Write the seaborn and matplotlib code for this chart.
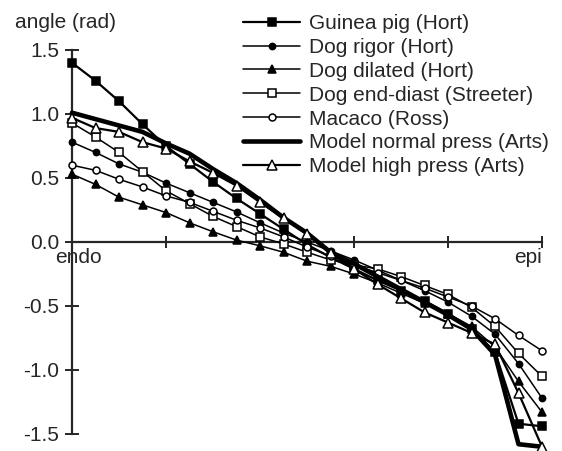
import pandas as pd
import seaborn as sns
import matplotlib.pyplot as plt

sns.set_style('ticks')
plt.rcParams['font.family'] = ['Liberation Sans', 'DejaVu Sans']

# relative wall depth, endo (0) -> epi (1)
depth = [0.0, 0.05, 0.1, 0.15, 0.2, 0.25, 0.3, 0.35, 0.4, 0.45, 0.5,
         0.55, 0.6, 0.65, 0.7, 0.75, 0.8, 0.85, 0.9, 0.95, 1.0]

guinea_pig = [1.40, 1.26, 1.10, 0.92, 0.75, 0.61, 0.47, 0.34, 0.22, 0.10, -0.02,
              -0.12, -0.21, -0.30, -0.38, -0.46, -0.56, -0.68, -0.86, -1.42, -1.44]
dog_rigor = [0.78, 0.70, 0.61, 0.545, 0.46, 0.385, 0.31, 0.235, 0.15, 0.07, 0.0,
             -0.07, -0.14, -0.22, -0.30, -0.38, -0.47, -0.58, -0.72, -0.95, -1.22]
dog_dilated = [0.53, 0.45, 0.35, 0.29, 0.23, 0.15, 0.08, 0.015, -0.03, -0.08, -0.15,
               -0.19, -0.25, -0.32, -0.40, -0.48, -0.56, -0.66, -0.82, -1.09, -1.33]
dog_end_diast = [0.93, 0.82, 0.70, 0.55, 0.40, 0.30, 0.20, 0.12, 0.04, -0.015, -0.08,
                 -0.14, -0.18, -0.21, -0.27, -0.34, -0.41, -0.51, -0.66, -0.87, -1.05]
macaco = [0.60, 0.56, 0.49, 0.43, 0.36, 0.31, 0.24, 0.17, 0.11, 0.04, -0.04,
          -0.11, -0.18, -0.24, -0.30, -0.36, -0.43, -0.50, -0.60, -0.73, -0.85]
model_normal = [1.01, 0.96, 0.91, 0.86, 0.77, 0.69, 0.57, 0.46, 0.33, 0.19, 0.07,
                -0.08, -0.17, -0.27, -0.37, -0.47, -0.57, -0.68, -0.88, -1.58, -1.60]
model_high = [0.97, 0.89, 0.86, 0.78, 0.73, 0.63, 0.54, 0.44, 0.31, 0.185, 0.06,
              -0.09, -0.21, -0.33, -0.44, -0.55, -0.63, -0.71, -0.80, -1.18, -1.60]

series = [
    ('Guinea pig (Hort)', guinea_pig, dict(marker='s', mfc='black', ms=6, lw=1.6)),
    ('Dog rigor (Hort)', dog_rigor, dict(marker='o', mfc='black', ms=4.5, lw=1.1)),
    ('Dog dilated (Hort)', dog_dilated, dict(marker='^', mfc='black', ms=6, lw=1.1)),
    ('Dog end-diast (Streeter)', dog_end_diast, dict(marker='s', mfc='white', ms=5.5, lw=1.1)),
    ('Macaco (Ross)', macaco, dict(marker='o', mfc='white', ms=5, lw=1.1)),
    ('Model normal press (Arts)', model_normal, dict(marker='', lw=3.3)),
    ('Model high press (Arts)', model_high, dict(marker='^', mfc='white', ms=6.5, lw=1.6)),
]

fig = plt.figure(figsize=(5.62, 4.51), dpi=100)
ax = fig.add_axes([72 / 562, 1 - 450.6 / 451, 470 / 562, 407 / 451])

for name, vals, kw in series:
    sns.lineplot(x=depth, y=vals, ax=ax, color='black', mec='black', mew=1.1,
                 label=name, clip_on=False, zorder=3, **kw)

ax.set_xlim(0, 1)
ax.set_ylim(-1.63, 1.55)

for s in ['top', 'right']:
    ax.spines[s].set_visible(False)
ax.spines['bottom'].set_position(('data', 0))
ax.spines['left'].set_bounds(-1.5, 1.5)
for s in ['left', 'bottom']:
    ax.spines[s].set_linewidth(1.6)
    ax.spines[s].set_zorder(2)

ax.set_yticks([-1.5, -1.0, -0.5, 0.0, 0.5, 1.0, 1.5])
ax.set_yticklabels(['-1.5', '-1.0', '-0.5', '0.0', '0.5', '1.0', '1.5'])
ax.set_xticks([0, 0.2, 0.4, 0.6, 0.8, 1.0])
ax.set_xticklabels([])
ax.tick_params(axis='both', direction='inout', length=10, width=1.4, labelsize=15, pad=4)
ax.tick_params(axis='x', length=9)

ax.text(0.013, -0.05, 'endo', ha='center', va='top', fontsize=15)
ax.text(1.0, -0.05, 'epi', ha='right', va='top', fontsize=15)
fig.text(15 / 562, 1 - 22 / 451, 'angle (rad)', ha='left', va='center', fontsize=15)

ax.set_xlabel('')
ax.set_ylabel('')
ax.legend(loc='upper left', bbox_to_anchor=(243 / 562, 1 - 14 / 451),
          bbox_transform=fig.transFigure, frameon=False, fontsize=15,
          borderpad=0, borderaxespad=0, labelspacing=0.235,
          handlelength=2.75, handletextpad=0.4)

fig.savefig('out.png', dpi=100)
